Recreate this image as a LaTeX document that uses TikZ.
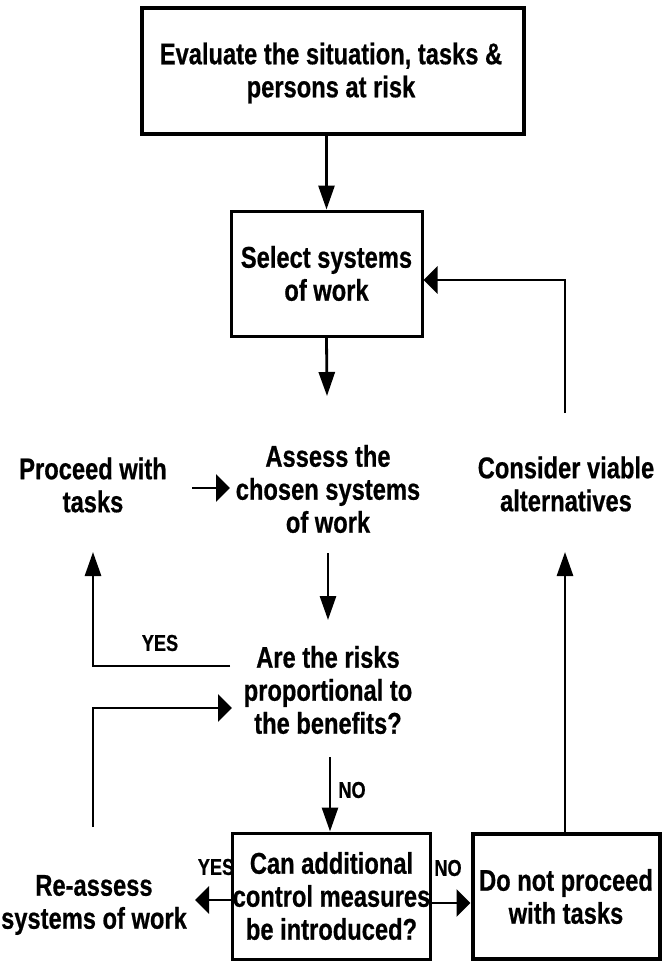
\documentclass[tikz,border=0pt]{standalone}
\usepackage{fontspec}
\newfontfamily\cf[FakeStretch=0.79,FakeBold=0.6]{Liberation Sans}
\usetikzlibrary{arrows.meta}
\begin{document}
\begin{tikzpicture}[x=1pt,y=-1pt,
  txt/.style={font=\cf\bfseries\fontsize{30}{33}\selectfont, align=center, inner sep=0pt},
  lbl/.style={font=\cf\bfseries\fontsize{23}{24}\selectfont, inner sep=0pt},
  boxa/.style={txt, draw, line width=4pt},
  boxb/.style={txt, draw, line width=3pt},
  conn/.style={line width=2.8pt, line join=miter},
  varr/.style={conn, -{Triangle[length=24pt,width=16pt]}},
  harr/.style={conn, -{Triangle[length=14pt,width=27pt]}}]
\useasboundingbox (0,0) rectangle (662,963);
% boxes
\node[boxa, minimum width=382pt, minimum height=126pt] (top) at (333,71) {};
\node[txt] (toptext) at (331,73) {Evaluate the situation, tasks \&\\persons at risk};
\node[boxb, minimum width=191pt, minimum height=125pt] (sel) at (326.5,273.5) {Select systems\\of work};
\node[boxb, minimum width=191pt, minimum height=126pt] (can) at (331.5,896) {Can additional\\control measures\\be introduced?};
\node[boxa, minimum width=187pt, minimum height=125pt] (dnp) at (566,896.5) {Do not proceed\\with tasks};
% free texts
\node[txt] (assess) at (328,489) {Assess the\\chosen systems\\of work};
\node[txt] (proc) at (93,485) {Proceed with\\tasks};
\node[txt] (cons) at (566,484) {Consider viable\\alternatives};
\node[txt] (risk) at (328,690) {Are the risks\\proportional to\\the benefits?};
\node[txt] (reas) at (94,905) {Re-assess\\systems of work};
% labels
\node[lbl] (yes1) at (160,643) {YES};
\node[lbl] (no1) at (352,790) {NO};
\node[lbl] (yes2) at (216,867) {YES};
\node[lbl] (no2) at (448,868) {NO};
% coordinates
\coordinate (c1) at (327,396);
\coordinate (c2) at (565,413);
\coordinate (c3) at (565,280);
\coordinate (c4) at (192,488);
\coordinate (c5) at (230,488);
\coordinate (c6) at (328,553);
\coordinate (c7) at (328,620);
\coordinate (c8) at (230,666);
\coordinate (c9) at (93,666);
\coordinate (c10) at (93,552);
\coordinate (c11) at (93,827);
\coordinate (c12) at (93,708);
\coordinate (c13) at (232,708);
\coordinate (c14) at (330,757);
\coordinate (c15) at (195,900);
\coordinate (c16) at (565,552);
% connectors
\draw[varr] (top.south -| sel.north) -- (sel.north);
\draw[varr] (sel.south) -- (c1);
\draw[harr] (c2) -- (c3) -- (sel.east |- c3);
\draw[harr] (c4) -- (c5);
\draw[varr] (c6) -- (c7);
\draw[varr] (c8) -- (c9) -- (c10);
\draw[harr] (c11) -- (c12) -- (c13);
\draw[varr] (c14) -- (c14 |- can.north);
\draw[harr] (can.west |- c15) -- (c15);
\draw[harr] (can.east |- 0,903) -- (dnp.west |- 0,903);
\draw[varr] (dnp.north -| c16) -- (c16);
\end{tikzpicture}
\end{document}
